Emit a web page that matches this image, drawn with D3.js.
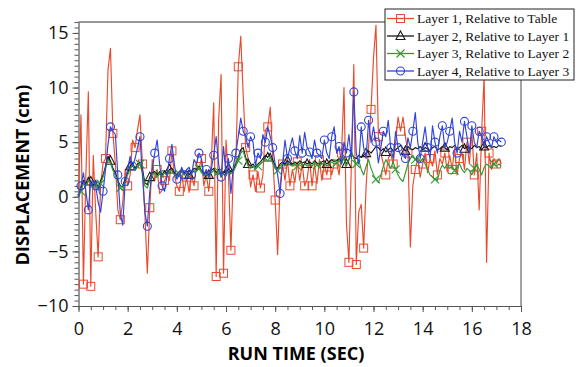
<!DOCTYPE html>
<html>
<head>
<meta charset="utf-8">
<script src="https://cdn.jsdelivr.net/npm/d3@7"></script>
<style>
  body { margin: 0; background: #fff; }
</style>
</head>
<body>
<script>
// sample spacing of the recordings (sec)
const dt = 0.1;

// Layer 1, Relative to Table (cm), one value every 0.1 s from 0 to 17.2
const layer1 = [
  0, 7.5, -8.0, 2.0, 9.6, -8.2, 3.8, -1.4, -5.5, 1.0,
  3.1, 3.5, 11.6, 13.6, 5.8, 3.0, -1.2, -2.1, -0.5, 2.5,
  1.0, 2.0, 5.2, 4.5, 6.1, 7.5, 3.0, -1.5, -7.0, -1.0,
  3.4, 1.5, 2.5, 0.3, 0.6, 1.5, 2.0, 1.5, 4.2, 2.0,
  1.0, 0.5, 2.0, 0.5, 1.8, 0.4, 2.0, 1.0, 3.0, 2.5,
  3.5, 1.0, 2.0, 0.5, 3.0, 8.6, -7.3, 7.0, 11.2, -7.0,
  5.2, 2.0, -4.9, 2.5, 3.0, 11.9, 14.7, 9.3, 4.5, 3.5,
  0.9, 2.0, 0.5, 2.3, 0.8, 2.0, 6.1, 6.4, 8.2, 3.5,
  -0.3, -5.3, 1.0, 3.0, 1.5, 3.4, 1.0, 2.5, 1.3, 3.2,
  1.5, 3.0, 1.0, 1.6, 3.4, 1.0, 3.0, 1.2, 3.4, 1.5,
  3.0, 2.0, 3.3, 2.0, 3.0, 3.1, 2.0, 4.0, 10.0, -2.5,
  -6.0, 3.0, 12.1, -6.2, -1.4, -0.7, -4.7, 1.0, 4.6, 8.0,
  12.7, 15.7, 5.5, 4.0, 3.0, 2.0, 3.5, 4.0, 3.0, 5.0,
  7.3, 6.0, 7.3, 5.5, 4.0, -4.6, 1.0, 2.5, 3.5, 1.8,
  3.0, 4.0, 2.2, 3.5, 2.8, 4.2, 2.0, 3.5, 3.0, 4.0,
  2.3, 3.8, 2.5, 4.5, 2.0, 3.5, 4.0, 2.5, 5.0, 3.0,
  6.0, 2.0, 4.0, -1.2, 6.0, 11.0, -6.0, 4.0, 2.5, 3.5,
  3.0, 3.5, 3.0
];

// Layer 2, Relative to Layer 1
const layer2 = [
  0, 0.8, 1.5, 1.2, 1.8, 1.4, 1.0, 1.5, 0.8, 1.5,
  2.0, 2.8, 3.7, 3.3, 2.6, 2.2, 1.5, 1.0, 0.9, 1.6,
  2.2, 2.8, 3.1, 2.6, 3.0, 3.2, 2.5, 1.3, 1.1, 1.8,
  2.2, 2.3, 2.0, 2.3, 2.0, 2.4, 2.1, 2.5, 2.6, 2.2,
  2.0, 2.3, 2.5, 2.2, 2.4, 2.0, 2.3, 2.6, 2.5, 2.8,
  2.4, 2.1, 2.3, 2.0, 2.4, 2.6, 2.2, 2.5, 2.0, 2.3,
  2.1, 2.6, 2.3, 2.5, 3.0, 3.6, 4.3, 4.5, 3.6, 3.0,
  2.8, 3.0, 2.7, 3.0, 3.2, 3.5, 3.8, 3.6, 4.0, 3.4,
  2.8, 2.6, 3.0, 3.2, 3.0, 3.3, 3.1, 3.0, 3.2, 3.0,
  3.3, 3.1, 3.2, 3.0, 3.2, 3.0, 3.3, 3.1, 3.0, 3.2,
  3.3, 3.0, 3.2, 3.4, 3.2, 3.3, 3.5, 3.2, 3.6, 3.0,
  3.4, 4.0, 3.6, 3.5, 3.8, 3.6, 3.8, 4.0, 4.2, 4.0,
  4.3, 4.6, 4.5, 4.2, 4.4, 4.1, 4.3, 4.5, 4.2, 4.3,
  4.5, 4.7, 4.4, 4.2, 4.6, 4.4, 4.3, 4.5, 4.4, 4.6,
  4.3, 4.5, 4.4, 4.2, 4.5, 4.6, 4.3, 4.4, 4.6, 4.5,
  4.3, 4.6, 4.5, 4.7, 4.4, 4.5, 4.7, 4.4, 4.6, 4.5,
  4.4, 4.7, 4.5, 4.6, 4.3, 4.6, 4.5, 4.7, 4.5, 4.6,
  4.5, 4.7, 4.6
];

// Layer 3, Relative to Layer 2
const layer3 = [
  0, 0.5, 1.2, 1.0, 1.5, 1.2, 0.8, 1.3, 0.6, 1.2,
  1.8, 2.6, 3.4, 3.1, 2.4, 2.0, 1.3, 0.8, 0.6, 1.4,
  2.0, 2.5, 2.9, 2.4, 2.7, 3.0, 2.2, 1.0, 0.8, 1.5,
  2.0, 2.2, 1.8, 2.1, 1.8, 2.2, 1.9, 2.3, 2.4, 2.0,
  1.8, 2.1, 2.3, 2.0, 2.2, 1.8, 2.1, 2.4, 2.3, 2.6,
  2.2, 1.9, 2.1, 1.8, 2.2, 2.4, 2.0, 2.3, 1.8, 2.1,
  1.9, 2.4, 2.1, 2.3, 2.8, 3.3, 4.0, 4.2, 3.4, 2.8,
  2.6, 2.8, 2.5, 2.8, 3.0, 3.2, 3.5, 3.3, 3.6, 3.1,
  2.6, 2.4, 2.8, 3.0, 2.8, 3.1, 2.9, 2.8, 3.0, 2.8,
  3.1, 2.9, 3.0, 2.8, 3.0, 2.8, 3.1, 2.9, 2.8, 3.0,
  3.1, 2.8, 3.0, 3.2, 3.0, 3.1, 3.3, 3.0, 3.6, 2.8,
  3.5, 4.2, 3.5, 3.0, 3.4, 2.5, 2.0, 2.8, 3.4, 2.6,
  2.0, 1.6, 1.3, 2.0, 2.8, 3.4, 3.0, 2.6, 3.2, 2.5,
  2.0, 1.6, 1.4, 2.2, 3.0, 3.5, 3.8, 3.4, 3.6, 3.2,
  3.5, 3.0, 2.5, 2.0, 1.8, 1.6, 1.5, 2.4, 2.9, 2.6,
  3.0, 2.6, 2.8, 2.4, 2.8, 3.0, 2.5, 2.2, 2.6, 2.4,
  2.0, 2.6, 3.0, 2.5, 2.0, 2.7, 3.0, 2.8, 2.6, 3.0,
  2.8, 3.0, 2.8
];

// Layer 4, Relative to Layer 3
const layer4 = [
  0, 1.0, 2.2, 0.5, -1.2, 1.4, 1.5, 1.0, -0.5, -1.4,
  0.5, 2.5, 4.8, 6.4, 6.0, 5.7, 2.0, -1.5, -2.6, 1.4,
  2.5, 3.7, 2.8, 3.5, 4.5, 5.5, 2.0, -1.4, -2.7, 0.5,
  2.5, 4.0, 5.2, 3.0, 1.0, 0.5, 2.0, 3.5, 4.8, 3.0,
  1.6, 2.0, 2.7, 2.0, 2.5, 2.7, 2.0, 3.4, 3.0, 4.0,
  3.5, 2.0, 2.5, 1.8, 2.5, 3.8, 5.5, 3.0, 1.8, 4.6,
  2.0, 3.5, 0.3, 2.8, 4.0, 5.5, 7.2, 6.0, 5.5, 4.5,
  5.5, 5.0, 2.9, 4.0, 3.5, 5.7, 5.0, 6.4, 5.5, 4.5,
  3.0, 2.0, 0.3, 3.0, 5.2, 3.5, 4.5, 5.4, 4.2, 3.5,
  5.6, 4.0, 5.9, 4.5, 4.1, 3.5, 5.2, 4.0, 3.8, 3.5,
  5.2, 4.0, 3.5, 5.5, 6.4, 4.0, 4.6, 3.0, 5.0, 4.0,
  5.7, 3.5, 9.6, 4.0, 3.0, 6.4, 4.5, 3.5, 7.0, 5.0,
  6.4, 5.0, 3.1, 4.5, 6.0, 5.5, 7.0, 4.5, 3.5, 6.0,
  4.5, 3.8, 4.0, 3.5, 5.4, 4.5, 6.0, 7.7, 5.0, 3.5,
  5.0, 6.4, 4.5, 3.5, 6.5, 5.0, 4.0, 5.5, 6.5, 4.5,
  5.0, 6.0, 7.2, 5.0, 4.0, 6.0, 5.0, 6.9, 5.5, 4.0,
  6.5, 5.0, 4.5, 6.0, 5.5, 4.5, 5.5, 5.0, 4.5, 5.5,
  5.0, 5.2, 5.0
];

const seriesNames = [
  "Layer 1, Relative to Table",
  "Layer 2, Relative to Layer 1",
  "Layer 3, Relative to Layer 2",
  "Layer 4, Relative to Layer 3"
];
const xTicks = [0, 2, 4, 6, 8, 10, 12, 14, 16, 18];
const yTicks = [-10, -5, 0, 5, 10, 15];

const width = 578, height = 367;
const margin = {top: 22, right: 57, bottom: 61, left: 78.5};

const svg = d3.select("body").append("svg")
  .attr("width", width)
  .attr("height", height)
  .style("font-family", "'Open Sans', sans-serif");

const x = d3.scaleLinear().domain([0, 18]).range([margin.left, width - margin.right]);
const y = d3.scaleLinear().domain([-10, 16]).range([height - margin.bottom, margin.top]);

// frame: top and right edges
svg.append("line")
  .attr("x1", x(0)).attr("x2", x(18))
  .attr("y1", y(16)).attr("y2", y(16))
  .attr("stroke", "#333").attr("stroke-width", 1.2);
svg.append("line")
  .attr("x1", x(18)).attr("x2", x(18))
  .attr("y1", y(16)).attr("y2", y(-10))
  .attr("stroke", "#666").attr("stroke-width", 1.2);

// minor ticks first, majors on top
svg.append("g")
  .attr("transform", "translate(0," + y(-10) + ")")
  .call(d3.axisBottom(x).tickValues(d3.range(0, 18.01, 0.5)).tickSize(4).tickFormat(""))
  .call(g => g.select(".domain").remove())
  .call(g => g.selectAll("line").attr("stroke", "#555"));
svg.append("g")
  .attr("transform", "translate(" + x(0) + ",0)")
  .call(d3.axisLeft(y).tickValues(d3.range(-10, 16.01, 0.5)).tickSize(4).tickFormat(""))
  .call(g => g.select(".domain").remove())
  .call(g => g.selectAll("line").attr("stroke", "#555"));

const xAxis = svg.append("g")
  .attr("transform", "translate(0," + y(-10) + ")")
  .call(d3.axisBottom(x).tickValues(xTicks).tickSize(6).tickPadding(10).tickSizeOuter(0));
const yAxis = svg.append("g")
  .attr("transform", "translate(" + x(0) + ",0)")
  .call(d3.axisLeft(y).tickValues(yTicks).tickSize(6).tickPadding(4).tickSizeOuter(0));

[xAxis, yAxis].forEach(function (g) {
  g.select(".domain").attr("stroke", "#555").attr("stroke-width", 1.2);
  g.selectAll("line").attr("stroke", "#555");
  g.selectAll("text")
    .attr("fill", "#111")
    .style("font-family", "'Open Sans', sans-serif")
    .style("font-size", "18px");
});

// axis titles
svg.append("text")
  .attr("x", 296).attr("y", 360)
  .attr("text-anchor", "middle")
  .style("font-weight", "bold").style("font-size", "18px")
  .text("RUN TIME (SEC)");
svg.append("text")
  .attr("transform", "translate(29,175) rotate(-90)")
  .attr("text-anchor", "middle")
  .style("font-weight", "bold").style("font-size", "18px")
  .text("DISPLACEMENT (cm)");

const series = [
  {name: seriesNames[0], values: layer1, color: "#ea4a2c", marker: "square",   every: 3, start: 2},
  {name: seriesNames[1], values: layer2, color: "#1a1a1a", marker: "triangle", every: 8, start: 5},
  {name: seriesNames[2], values: layer3, color: "#2f9a35", marker: "cross",    every: 8, start: 1},
  {name: seriesNames[3], values: layer4, color: "#3144d8", marker: "circle",   every: 3, start: 1}
];

const line = d3.line()
  .x((d, i) => x(i * dt))
  .y(d => y(d));

function drawMarker(g, type, cx, cy, color) {
  if (type === "square") {
    g.append("rect").attr("x", cx - 4).attr("y", cy - 4).attr("width", 8).attr("height", 8)
      .attr("fill", "none").attr("stroke", color).attr("stroke-width", 1);
  } else if (type === "circle") {
    g.append("circle").attr("cx", cx).attr("cy", cy).attr("r", 4)
      .attr("fill", "none").attr("stroke", color).attr("stroke-width", 1.1);
  } else if (type === "triangle") {
    g.append("path")
      .attr("d", "M" + cx + "," + (cy - 5) + "L" + (cx + 4.5) + "," + (cy + 3.5) + "L" + (cx - 4.5) + "," + (cy + 3.5) + "Z")
      .attr("fill", "none").attr("stroke", color).attr("stroke-width", 1.1);
  } else {
    g.append("path")
      .attr("d", "M" + (cx - 4) + "," + (cy - 4) + "L" + (cx + 4) + "," + (cy + 4) + "M" + (cx + 4) + "," + (cy - 4) + "L" + (cx - 4) + "," + (cy + 4))
      .attr("fill", "none").attr("stroke", color).attr("stroke-width", 1.1);
  }
}

series.forEach(function (s) {
  const g = svg.append("g");
  g.append("path")
    .datum(s.values)
    .attr("d", line)
    .attr("fill", "none")
    .attr("stroke", s.color)
    .attr("stroke-width", 1.15)
    .attr("stroke-linejoin", "round");
  s.values.forEach(function (v, i) {
    if (i >= s.start && (i - s.start) % s.every === 0) {
      drawMarker(g, s.marker, x(i * dt), y(v), s.color);
    }
  });
});

// legend
const legend = svg.append("g");
legend.append("rect")
  .attr("x", 385).attr("y", 9).attr("width", 189).attr("height", 71)
  .attr("fill", "#fff").attr("stroke", "#222").attr("stroke-width", 1);
series.forEach(function (s, i) {
  const ly = 18.5 + i * 17.5;
  legend.append("line")
    .attr("x1", 387).attr("x2", 414).attr("y1", ly).attr("y2", ly)
    .attr("stroke", s.color).attr("stroke-width", 1.3);
  drawMarker(legend, s.marker, 400.5, ly, s.color);
  legend.append("text")
    .attr("x", 417).attr("y", ly).attr("dy", "0.35em")
    .style("font-family", "'Liberation Serif', 'Times New Roman', serif")
    .style("font-size", "13.5px")
    .attr("fill", "#111")
    .text(s.name);
});
</script>
</body>
</html>
